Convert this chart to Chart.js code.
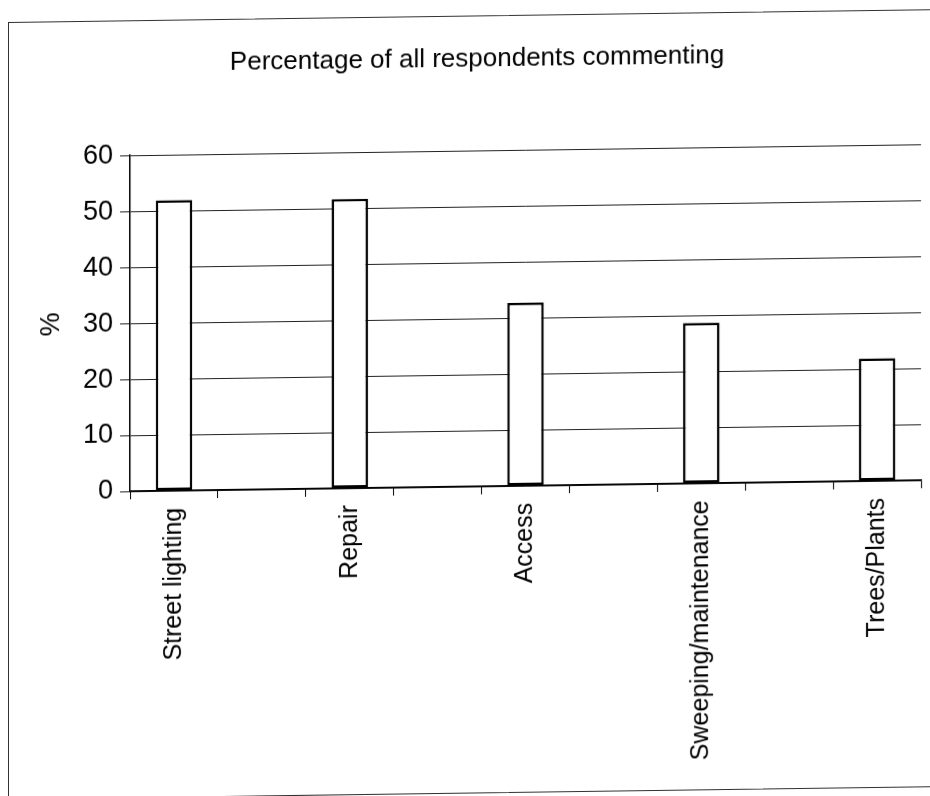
<!DOCTYPE html>
<html>
<head>
<meta charset="utf-8">
<script src="https://cdn.jsdelivr.net/npm/chart.js@4/dist/chart.umd.min.js"></script>
<style>
  html, body { margin: 0; padding: 0; background: #fff; overflow: hidden; }
  body { width: 930px; height: 796px; position: relative; }
  /* the scanned original is slightly skewed, frame cropped at the right */
  #frame {
    position: absolute;
    left: 8px;
    top: 22px;
    width: 938px;
    height: 776px;
    border: 1px solid #333;
    transform-origin: 0 0;
    transform: skewY(-0.8deg);
  }
</style>
</head>
<body>
<div id="frame"><canvas id="chart-canvas"></canvas></div>
<script>
const chartTitle = "Percentage of all respondents commenting";
const yAxisTitle = "%";
const categories = ["Street lighting", "Repair", "Access", "Sweeping/maintenance", "Trees/Plants"];
const percentages = [51.9, 51.7, 32.7, 28.7, 21.9];
const yTickValues = [0, 10, 20, 30, 40, 50, 60];

Chart.defaults.font.family = "'Liberation Sans', Arial, sans-serif";
Chart.defaults.color = "#000";

// the original axis has an empty slot between each labelled bar
const labels = categories.flatMap((c, i) => (i ? ["", c] : [c]));
const values = percentages.flatMap((v, i) => (i ? [null, v] : [v]));

const canvas = document.getElementById("chart-canvas");

new Chart(canvas, {
  type: "bar",
  data: {
    labels: labels,
    datasets: [
      {
        data: values,
        backgroundColor: "#fff",
        borderColor: "#000",
        borderWidth: 2.5,
        borderSkipped: false,
        barPercentage: 0.415,
        categoryPercentage: 1,
      },
    ],
  },
  options: {
    responsive: true,
    maintainAspectRatio: false,
    animation: false,
    layout: {
      padding: { left: 24, right: 26, top: 0, bottom: 0 },
    },
    scales: {
      x: {
        afterFit: (scale) => {
          scale.height = 306;
        },
        grid: {
          offset: true,
          drawOnChartArea: false,
          drawTicks: true,
          tickLength: 8,
          color: "#000",
        },
        border: {
          display: true,
          color: "#000",
          width: 1.5,
        },
        ticks: {
          autoSkip: false,
          maxRotation: 90,
          minRotation: 90,
          padding: 9,
          font: { size: 25 },
        },
      },
      y: {
        min: yTickValues[0],
        max: yTickValues[yTickValues.length - 1],
        afterFit: (scale) => {
          scale.width = 97;
        },
        ticks: {
          stepSize: 10,
          padding: 7,
          font: { size: 27 },
        },
        grid: {
          color: "#222",
          lineWidth: 1,
          drawTicks: true,
          tickLength: 10,
        },
        border: {
          display: true,
          color: "#000",
          width: 1.5,
        },
        title: {
          display: true,
          text: yAxisTitle,
          font: { size: 27 },
          padding: { top: 2, bottom: 0 },
        },
      },
    },
    plugins: {
      legend: {
        display: false,
      },
      tooltip: {
        enabled: false,
      },
      title: {
        display: true,
        text: chartTitle,
        font: { size: 26, weight: "normal" },
        padding: { top: 27, bottom: 76 },
      },
    },
  },
});
</script>
</body>
</html>
